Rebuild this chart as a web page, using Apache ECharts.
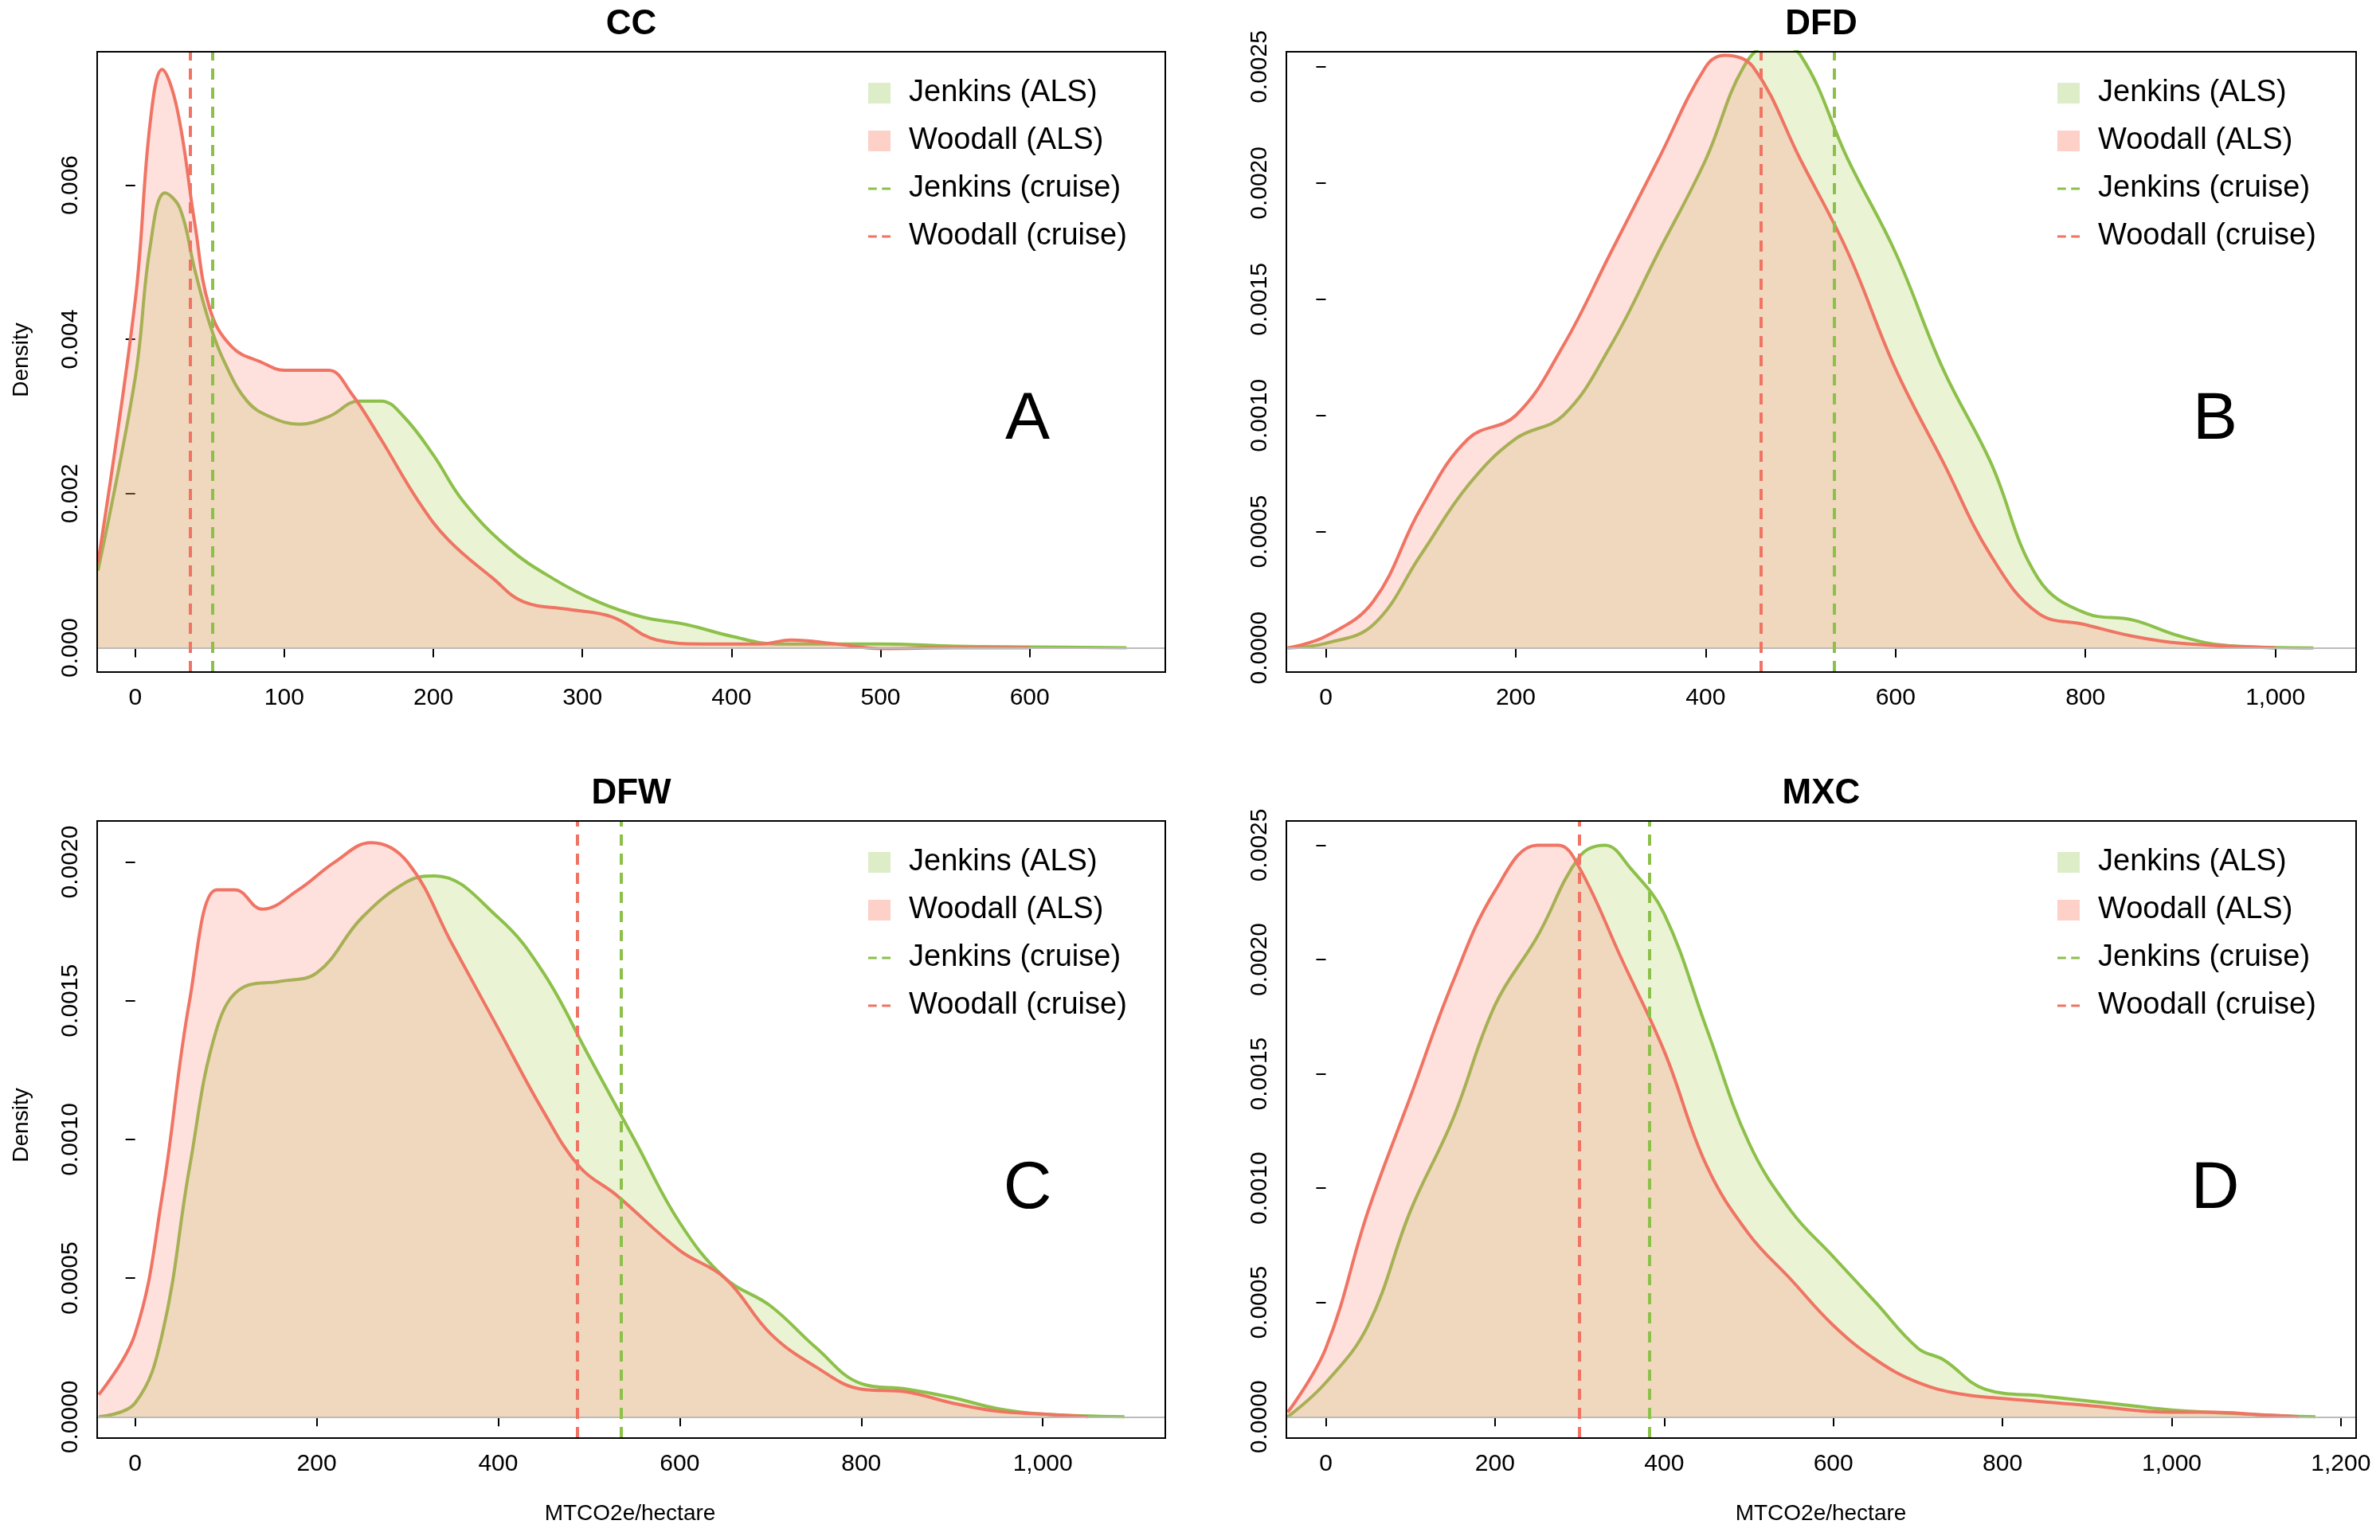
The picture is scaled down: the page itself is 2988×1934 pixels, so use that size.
<!DOCTYPE html>
<html lang="en">
<head>
<meta charset="UTF-8">
<title>Density</title>
<script src="https://cdn.jsdelivr.net/npm/echarts@6/dist/echarts.min.js"></script>
<style>html,body{margin:0;background:#fff}</style>
</head>
<body>
<div id="main" style="width:2988px;height:1934px;"></div>
<script>
// panel data: [x, density]
var panelTitles = ['CC', 'DFD', 'DFW', 'MXC'];
var panelLetters = ['A', 'B', 'C', 'D'];
var legendNames = ['Jenkins (ALS)', 'Woodall (ALS)', 'Jenkins (cruise)', 'Woodall (cruise)'];

var jenkinsA = [[-25,0.001],[0,0.0035],[10,0.0052],[20,0.0059],[30,0.0057],[40,0.0049],[50,0.0042],[60,0.0037],[75,0.0032],[90,0.0030],[110,0.0029],[130,0.0030],[150,0.0032],[165,0.0032],[180,0.0030],[200,0.0025],[220,0.0019],[250,0.0013],[280,0.0009],[310,0.0006],[340,0.0004],[370,0.0003],[400,0.00015],[430,0.00005],[500,0.00005],[550,0.00002],[600,0.00001],[665,0]];
var woodallA = [[-25,0.0011],[0,0.0045],[10,0.0068],[18,0.0075],[28,0.0070],[40,0.0055],[50,0.0044],[65,0.0039],[85,0.0037],[100,0.0036],[120,0.0036],[130,0.0036],[145,0.0033],[165,0.0027],[190,0.0019],[210,0.0014],[240,0.0009],[260,0.0006],[290,0.0005],[320,0.0004],[350,0.0001],[380,0.00005],[420,0.00005],[440,0.0001],[470,0.00005],[500,-0.00001],[550,0],[600,0]];
var jenkinsB = [[-40,0],[0,0.00002],[50,0.0001],[100,0.0004],[150,0.0007],[200,0.0009],[250,0.001],[300,0.0013],[350,0.0017],[400,0.0021],[440,0.0025],[470,0.0026],[500,0.00255],[550,0.0021],[600,0.0017],[650,0.0012],[700,0.0008],[750,0.0003],[800,0.00015],[850,0.00012],[900,0.00005],[950,0.00001],[1040,0]];
var woodallB = [[-40,0],[0,0.00005],[50,0.0002],[100,0.0006],[150,0.0009],[200,0.001],[250,0.0013],[300,0.0017],[350,0.0021],[400,0.0025],[420,0.00255],[450,0.0025],[500,0.0021],[550,0.0017],[600,0.0012],[650,0.0008],[700,0.0004],[750,0.00015],[800,0.0001],[850,0.00005],[900,0.00002],[1000,0]];
var jenkinsC = [[-40,0],[0,0.00005],[30,0.0003],[60,0.0009],[90,0.0014],[120,0.00155],[160,0.00157],[200,0.0016],[250,0.0018],[300,0.00193],[330,0.00195],[400,0.0018],[450,0.0016],[500,0.0013],[550,0.001],[600,0.0007],[650,0.0005],[700,0.0004],[750,0.00025],[800,0.00012],[850,0.0001],[900,0.00007],[950,0.00003],[1000,0.00001],[1090,0]];
var woodallC = [[-40,0.00008],[0,0.0003],[30,0.0008],[60,0.0015],[90,0.0019],[110,0.0019],[140,0.00183],[180,0.0019],[220,0.002],[260,0.00207],[300,0.0020],[350,0.0017],[400,0.0014],[450,0.0011],[490,0.0009],[530,0.0008],[600,0.0006],[650,0.0005],[700,0.0003],[750,0.00018],[800,0.0001],[850,0.00009],[900,0.00005],[950,0.00002],[1000,0.00001],[1050,0]];
var jenkinsD = [[-45,0],[0,0.00015],[50,0.0004],[100,0.0009],[150,0.0013],[200,0.0018],[250,0.0021],[300,0.00245],[330,0.0025],[360,0.0024],[400,0.0022],[450,0.0017],[500,0.0012],[550,0.0009],[600,0.0007],[650,0.0005],[700,0.0003],[730,0.00025],[780,0.00012],[850,0.00009],[950,0.00005],[1000,0.00003],[1100,0.00001],[1170,0]];
var woodallD = [[-45,0.00002],[0,0.0003],[50,0.0009],[100,0.0014],[150,0.0019],[200,0.0023],[250,0.0025],[275,0.0025],[300,0.0024],[350,0.002],[400,0.0016],[450,0.0011],[500,0.0008],[550,0.0006],[600,0.0004],[650,0.00025],[700,0.00015],[750,0.0001],[800,0.00008],[900,0.00005],[1000,0.00002],[1050,0.00002],[1100,0.00001],[1150,0]];

var jenkinsCurves = [jenkinsA, jenkinsB, jenkinsC, jenkinsD];
var woodallCurves = [woodallA, woodallB, woodallC, woodallD];
var jenkinsCruise = [52, 535, 535, 383];
var woodallCruise = [37, 458, 487, 300];

var xTicks = [[0,100,200,300,400,500,600],[0,200,400,600,800,1000],[0,200,400,600,800,1000],[0,200,400,600,800,1000,1200]];
var yTicks = [[0,0.002,0.004,0.006],[0,0.0005,0.001,0.0015,0.002,0.0025],[0,0.0005,0.001,0.0015,0.002],[0,0.0005,0.001,0.0015,0.002,0.0025]];
var yDecimals = [3, 4, 4, 4];
var xRange = [[-25.5,691],[-41.5,1085],[-41.8,1135],[-46.6,1218]];
var yRange = [[-0.000315,0.00773],[-0.000104,0.002565],[-0.0000765,0.002148],[-0.000093,0.002606]];

var green = '#8cc04a', red = '#f07464';
var grids = [
  {left:122, top:65, width:1341, height:779},
  {left:1615, top:65, width:1343, height:779},
  {left:122, top:1031, width:1341, height:775},
  {left:1615, top:1031, width:1343, height:775}
];

var xAxes = [], yAxes = [], series = [], legends = [], graphics = [];
var dashIcon = 'path://M0,0h10v3h-10z M16,0h10v3h-10z';
grids.forEach(function (g, i) {
  xAxes.push({type:'value', gridIndex:i, min:xRange[i][0], max:xRange[i][1],
    axisLine:{show:false}, splitLine:{show:false},
    axisTick:{customValues:xTicks[i], length:12, lineStyle:{color:'#000', width:2}},
    axisLabel:{customValues:xTicks[i], fontSize:30, color:'#000', margin:18, fontFamily:'Liberation Sans'}});
  yAxes.push({type:'value', gridIndex:i, min:yRange[i][0], max:yRange[i][1],
    axisLine:{show:false}, splitLine:{show:false},
    axisTick:{show:true, customValues:yTicks[i], length:12, lineStyle:{color:'#000', width:2}},
    axisLabel:{customValues:yTicks[i], fontSize:30, color:'#000', rotate:90, margin:18, fontFamily:'Liberation Sans',
      formatter:(function (d) { return function (v) { return v.toFixed(d); }; })(yDecimals[i])}});
  series.push({name:'Jenkins (ALS)', type:'line', xAxisIndex:i, yAxisIndex:i, data:jenkinsCurves[i],
    smooth:0.4, showSymbol:false, color:'#dcedc8', lineStyle:{color:green, width:4},
    areaStyle:{color:'rgba(154,205,50,0.3)', origin:0}, z:2,
    markLine:{silent:true, symbol:'none', label:{show:false}, lineStyle:{color:'#bbb', type:'solid', width:2}, data:[{yAxis:0}]}});
  series.push({name:'Woodall (ALS)', type:'line', xAxisIndex:i, yAxisIndex:i, data:woodallCurves[i],
    smooth:0.4, showSymbol:false, color:'#fdd0c8', lineStyle:{color:red, width:4},
    areaStyle:{color:'rgba(250,128,114,0.35)', origin:0}, z:3});
  series.push({name:'Jenkins (cruise)', type:'line', xAxisIndex:i, yAxisIndex:i, data:[], color:green,
    markLine:{silent:true, symbol:'none', label:{show:false}, lineStyle:{color:green, type:[14,10], width:4}, data:[{xAxis:jenkinsCruise[i]}]}});
  series.push({name:'Woodall (cruise)', type:'line', xAxisIndex:i, yAxisIndex:i, data:[], color:red,
    markLine:{silent:true, symbol:'none', label:{show:false}, lineStyle:{color:red, type:[14,10], width:4}, data:[{xAxis:woodallCruise[i]}]}});
  var lx = i % 2 === 0 ? 1085 : 2578;
  legends.push({orient:'vertical', left:lx, top:g.top + 28, itemWidth:28, itemHeight:26, itemGap:22,
    textStyle:{fontSize:38, color:'#000', fontFamily:'Liberation Sans', padding:[0,0,0,18]},
    data:[{name:legendNames[0], icon:'rect'},{name:legendNames[1], icon:'rect'},
          {name:legendNames[2], icon:dashIcon},{name:legendNames[3], icon:dashIcon}]});
  graphics.push({type:'rect', shape:{x:g.left, y:g.top, width:g.width, height:g.height},
    style:{fill:'none', stroke:'#000', lineWidth:2}, z:10});
  graphics.push({type:'text', x:g.left + g.width / 2, y:g.top - 34,
    style:{text:panelTitles[i], fontSize:44, fontWeight:'bold', fill:'#000', align:'center', verticalAlign:'middle', fontFamily:'Liberation Sans'}});
  graphics.push({type:'text', x:i % 2 === 0 ? 1290 : 2781, y:g.top + 463,
    style:{text:panelLetters[i], fontSize:84, fill:'#000', align:'center', verticalAlign:'middle', fontFamily:'Liberation Sans'}});
});
// axis titles
[452, 1413].forEach(function (y) {
  graphics.push({type:'text', x:27, y:y, rotation:Math.PI / 2,
    style:{text:'Density', fontSize:28, fill:'#000', align:'center', verticalAlign:'middle', fontFamily:'Liberation Sans'}});
});
[791, 2286].forEach(function (x) {
  graphics.push({type:'text', x:x, y:1901,
    style:{text:'MTCO2e/hectare', fontSize:28, fill:'#000', align:'center', verticalAlign:'middle', fontFamily:'Liberation Sans'}});
});

var myChart = echarts.init(document.getElementById('main'));
myChart.setOption({
  animation:false,
  grid:grids, xAxis:xAxes, yAxis:yAxes, series:series, legend:legends, graphic:graphics
});
</script>
</body>
</html>
